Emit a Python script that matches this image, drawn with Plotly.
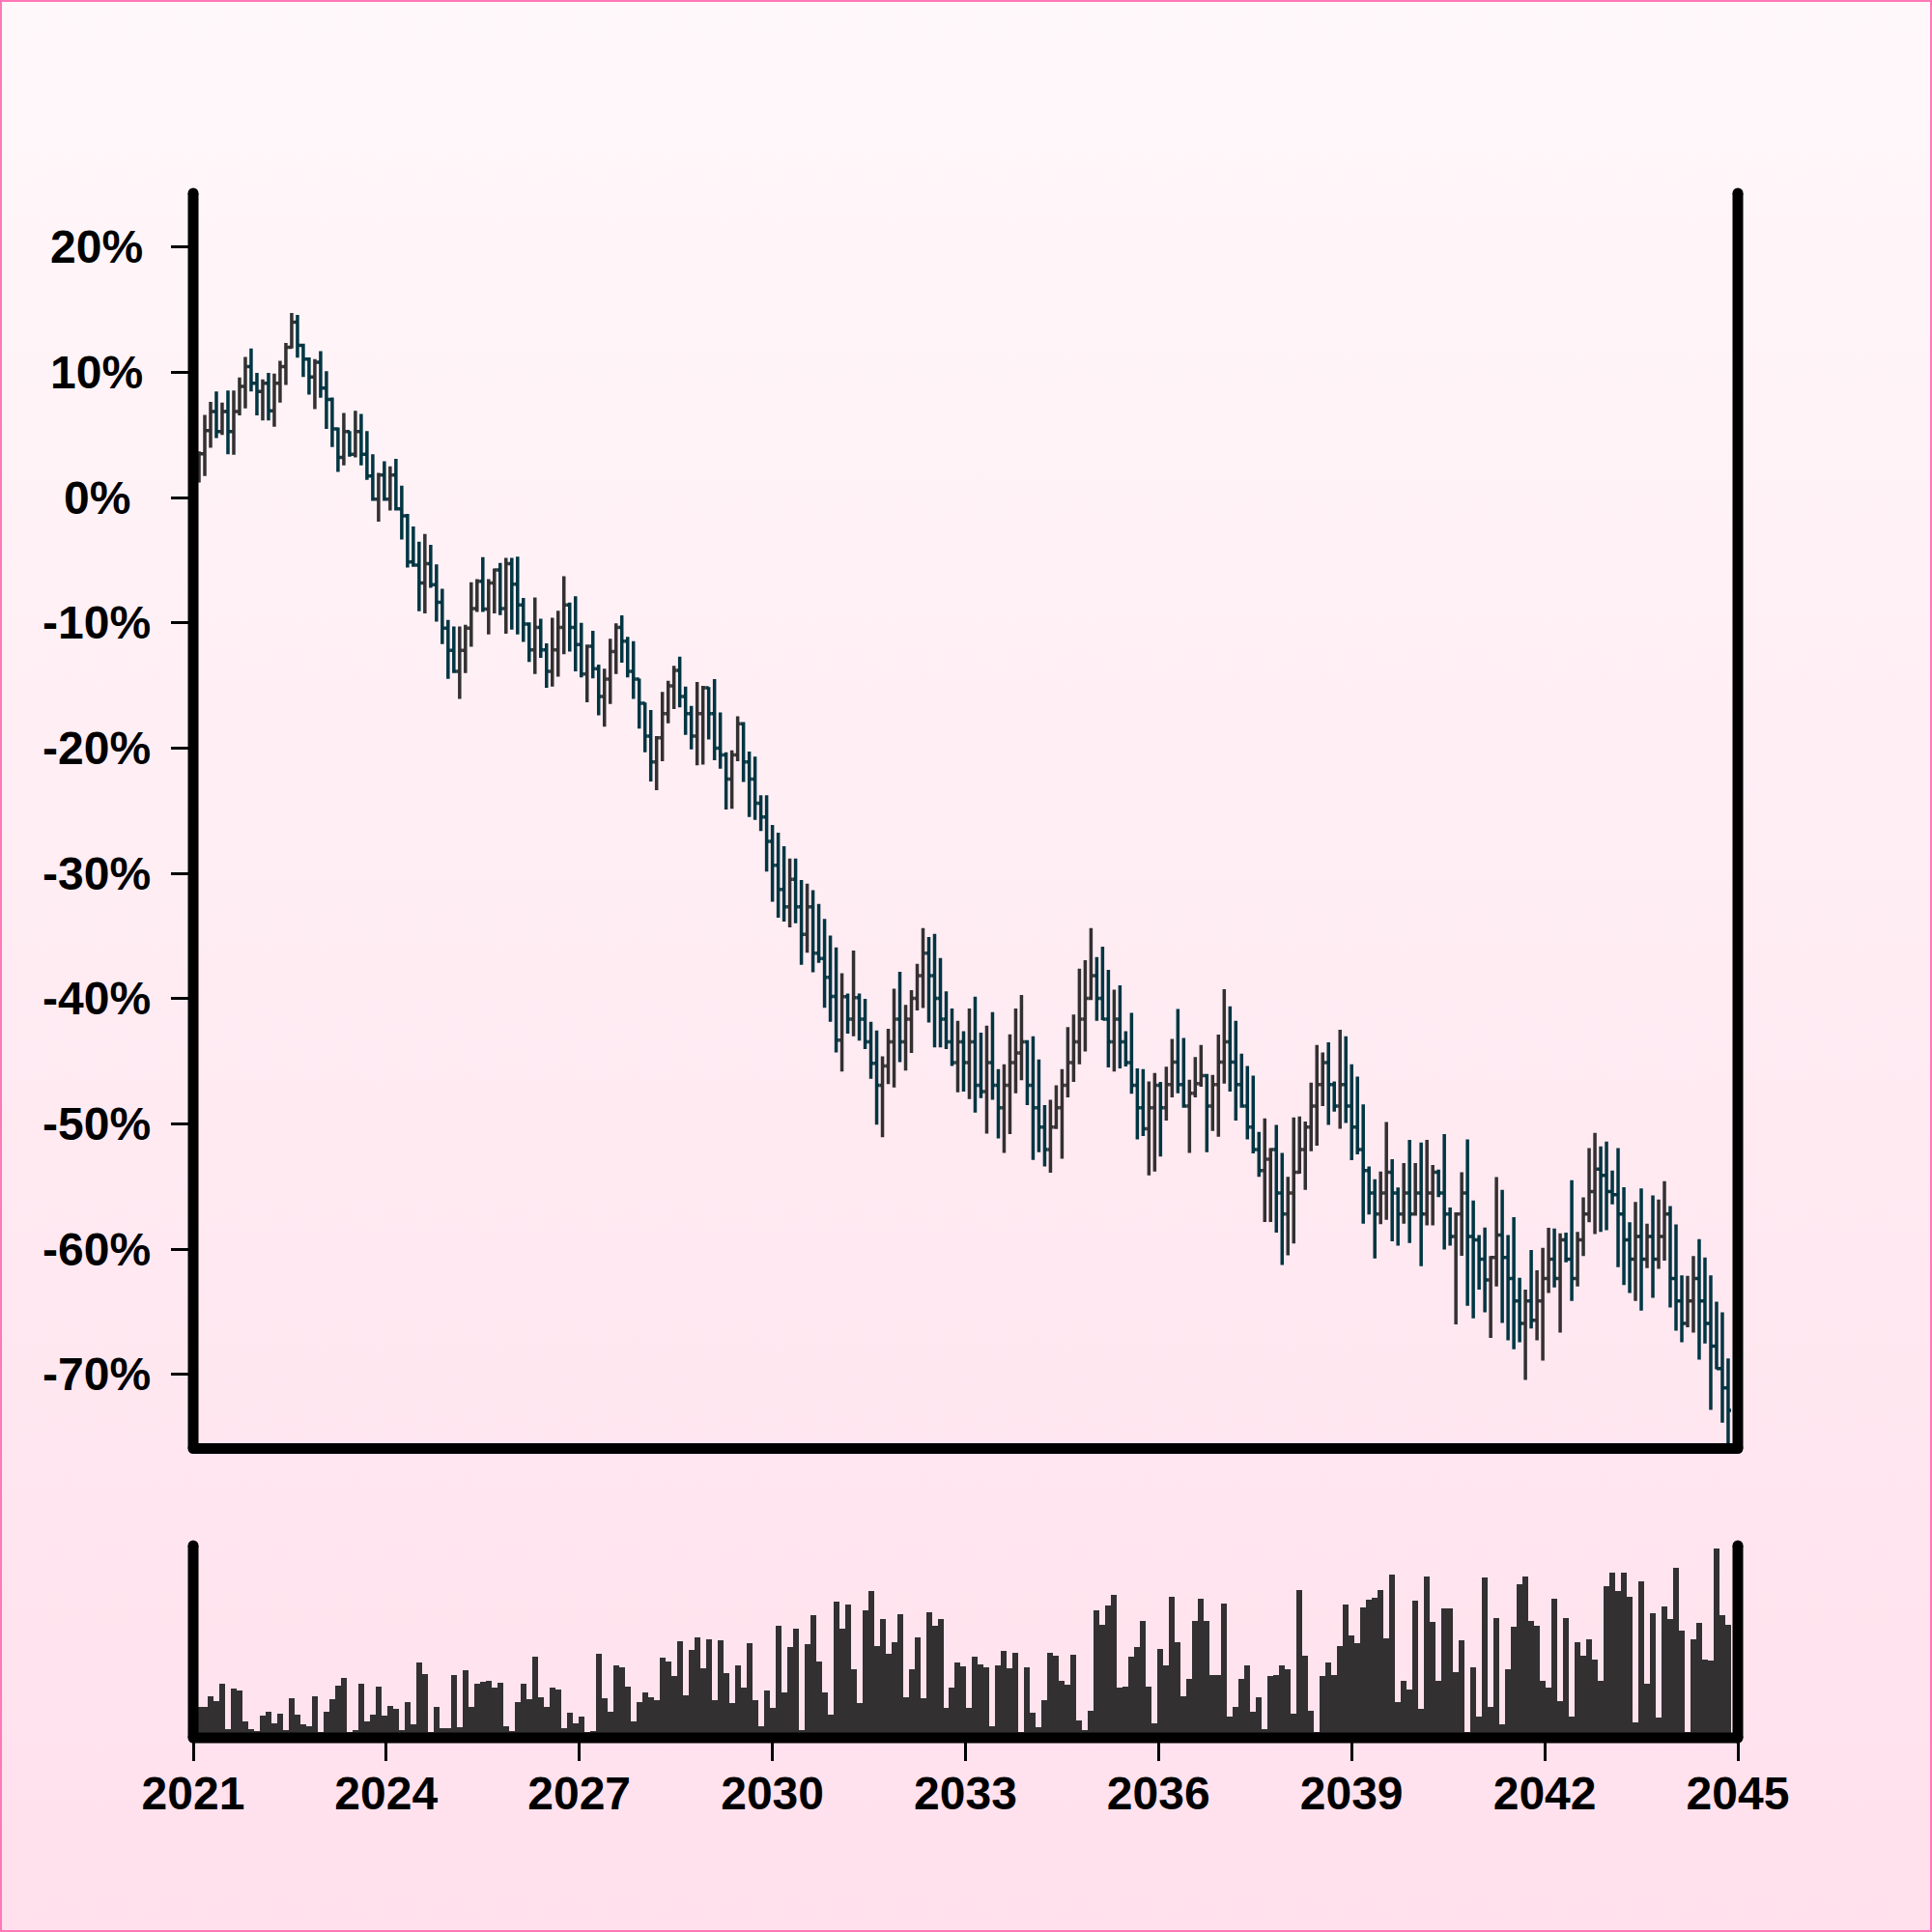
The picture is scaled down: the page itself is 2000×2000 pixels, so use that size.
import base64
import pandas as pd
import plotly.graph_objects as go

# ---------------- data ----------------
dates = pd.date_range("2021-01-01", "2044-11-07", periods=266)

open_pct = [
    1.2, 2.0, 3.5, 5.35, 6.87, 5.27, 6.87, 5.27, 6.87, 8.87,
    10.46, 9.13, 8.48, 9.13, 6.94, 9.13, 10.46, 12.01, 14.01, 12.16,
    11.05, 9.64, 10.80, 8.74, 7.84, 5.48, 3.22, 5.27, 3.47, 5.27,
    3.47, 1.73, -0.13, 1.80, -0.13, 1.80, -0.90, -1.46, -5.14, -5.39,
    -6.81, -5.27, -6.94, -8.35, -10.41, -12.20, -13.87, -12.20, -10.41, -8.86,
    -6.68, -8.90, -6.81, -5.78, -8.86, -5.27, -6.91, -8.56, -10.08, -12.15,
    -10.36, -12.15, -13.87, -12.15, -10.36, -8.56, -10.36, -11.73, -14.07, -11.86,
    -13.66, -15.87, -14.48, -12.28, -10.36, -11.45, -13.87, -14.48, -16.41, -19.03,
    -21.09, -19.17, -17.24, -15.03, -13.80, -15.87, -17.24, -19.03, -17.24, -15.17,
    -17.24, -19.99, -20.54, -22.47, -20.54, -18.06, -21.09, -22.47, -24.39, -25.50,
    -27.43, -29.35, -31.28, -32.66, -30.46, -32.66, -34.86, -32.66, -36.37, -36.79,
    -38.30, -39.81, -43.30, -39.83, -41.63, -39.91, -41.63, -43.43, -45.15, -46.90,
    -45.36, -43.43, -41.63, -43.43, -41.63, -39.96, -38.16, -36.36, -38.16, -39.96,
    -41.63, -43.43, -45.10, -43.43, -45.10, -43.43, -46.90, -47.41, -45.10, -46.90,
    -48.70, -46.90, -45.10, -44.33, -43.43, -46.90, -48.70, -50.24, -52.04, -50.24,
    -48.70, -46.90, -45.10, -43.43, -41.63, -39.96, -38.16, -39.96, -41.63, -43.43,
    -41.63, -43.43, -45.10, -46.90, -48.70, -50.37, -48.70, -46.90, -48.70, -46.85,
    -45.05, -46.85, -48.57, -47.54, -46.77, -46.13, -48.57, -46.85, -45.05, -43.43,
    -45.05, -46.85, -48.57, -50.24, -52.04, -53.71, -52.81, -52.04, -55.51, -57.18,
    -55.51, -53.84, -52.04, -50.24, -48.57, -46.85, -45.10, -46.85, -48.57, -46.85,
    -48.57, -50.24, -52.04, -53.71, -55.51, -57.18, -55.51, -53.84, -55.51, -57.18,
    -55.51, -57.18, -55.51, -57.18, -55.51, -53.84, -55.51, -57.18, -58.98, -57.18,
    -55.51, -58.98, -59.24, -60.78, -62.45, -60.65, -58.85, -60.65, -62.32, -64.12,
    -65.92, -64.12, -65.67, -64.12, -62.32, -60.78, -62.32, -59.24, -60.78, -62.32,
    -59.24, -57.18, -55.39, -53.59, -54.10, -55.39, -55.64, -57.18, -59.24, -60.78,
    -58.98, -60.78, -58.98, -60.78, -58.98, -57.18, -62.32, -64.12, -65.92, -64.12,
    -62.32, -64.12, -65.92, -67.72, -69.52, -71.06,
]

high_pct = [
    2.8, 3.7, 6.61, 7.64, 8.48, 7.58, 8.56, 8.56, 9.59, 11.23,
    11.90, 9.95, 9.44, 9.95, 9.90, 10.93, 12.34, 14.73, 14.58, 12.3,
    11.2, 11.05, 11.70, 10.10, 8.0, 5.6, 6.76, 5.32, 6.94, 6.69,
    5.32, 3.47, 1.98, 2.91, 2.50, 3.09, 0.95, -1.3, -2.31, -3.52,
    -2.90, -3.77, -5.32, -7.27, -9.76, -10.28, -10.28, -10.15, -6.76, -6.50,
    -4.75, -6.50, -5.65, -5.21, -4.80, -4.80, -4.71, -8.01, -9.95, -7.96,
    -9.66, -11.64, -9.59, -9.03, -6.28, -8.37, -7.87, -10.00, -11.73, -10.63,
    -13.33, -13.66, -11.26, -10.03, -9.39, -11.12, -11.45, -14.45, -16.36, -16.96,
    -19.03, -15.50, -14.62, -13.43, -12.69, -15.09, -16.63, -14.71, -15.03, -15.12,
    -14.48, -17.15, -20.32, -20.18, -17.46, -17.92, -20.27, -20.68, -23.76, -23.76,
    -26.13, -26.74, -27.83, -28.80, -28.80, -30.53, -30.81, -31.34, -32.44, -33.62,
    -34.95, -35.90, -37.96, -39.58, -36.16, -39.58, -40.01, -41.84, -42.53, -44.59,
    -42.40, -39.19, -37.85, -40.48, -39.32, -37.21, -34.36, -35.08, -34.82, -36.75,
    -39.40, -40.78, -41.76, -42.58, -40.78, -39.83, -42.71, -42.15, -41.07, -45.62,
    -45.23, -42.84, -40.78, -39.70, -43.3, -42.99, -44.84, -48.49, -48.06, -46.90,
    -45.62, -42.27, -41.25, -37.60, -36.93, -34.36, -36.67, -35.85, -37.70, -39.27,
    -38.93, -42.58, -41.12, -45.56, -45.62, -46.59, -45.92, -46.64, -45.43, -43.20,
    -40.81, -43.12, -46.46, -44.66, -43.69, -46.00, -46.08, -42.86, -39.24, -40.60,
    -41.76, -44.38, -45.36, -46.13, -50.63, -49.55, -51.91, -50.06, -52.30, -54.22,
    -49.47, -49.39, -49.80, -46.69, -43.69, -44.28, -43.48, -46.59, -42.48, -42.99,
    -45.23, -46.21, -48.44, -53.38, -54.40, -53.79, -49.83, -52.81, -55.07, -53.12,
    -51.27, -53.12, -51.47, -51.27, -53.27, -53.63, -50.81, -56.67, -57.05, -53.84,
    -51.22, -56.10, -58.85, -58.26, -60.53, -54.23, -55.26, -58.85, -57.44, -62.27,
    -63.22, -60.06, -61.68, -59.88, -58.29, -58.34, -58.73, -58.67, -54.49, -58.60,
    -55.85, -51.92, -50.71, -51.79, -51.40, -53.71, -51.92, -55.05, -57.83, -56.21,
    -55.13, -57.96, -55.69, -56.03, -54.56, -56.54, -58.01, -62.07, -62.12, -60.53,
    -59.19, -60.65, -62.07, -64.17, -65.02, -68.70,
]

low_pct = [
    0.5, 1.2, 1.73, 3.99, 4.76, 5.01, 3.47, 3.42, 6.56, 7.12,
    8.48, 6.56, 6.17, 6.17, 5.66, 7.58, 9.00, 11.9, 11.18, 9.64,
    8.23, 7.07, 7.97, 5.48, 4.04, 2.06, 2.57, 3.27, 3.22, 2.57,
    1.42, -0.25, -1.92, -0.25, -1.02, -1.02, -3.34, -5.57, -5.52, -9.07,
    -9.25, -7.19, -9.89, -11.69, -14.47, -14.00, -16.06, -14.00, -11.90, -9.12,
    -9.12, -10.92, -9.25, -9.38, -10.87, -10.53, -10.91, -11.51, -13.11, -14.07,
    -12.78, -15.17, -15.09, -14.29, -12.50, -12.28, -13.87, -14.34, -16.33, -14.43,
    -17.38, -18.29, -16.47, -14.07, -13.17, -14.34, -16.06, -18.43, -20.32, -22.66,
    -23.36, -21.04, -18.01, -16.88, -16.74, -18.94, -20.10, -21.37, -21.31, -19.31,
    -20.96, -21.64, -24.89, -24.83, -21.04, -22.69, -25.50, -25.72, -26.60, -29.85,
    -32.25, -33.53, -33.84, -34.30, -33.98, -37.28, -36.32, -37.89, -37.14, -40.72,
    -41.83, -44.28, -45.80, -42.79, -42.99, -43.35, -44.02, -46.39, -50.04, -51.06,
    -46.82, -47.08, -45.05, -45.74, -44.33, -40.94, -40.73, -41.89, -43.89, -43.89,
    -44.02, -45.36, -47.47, -47.41, -48.01, -49.08, -47.93, -50.76, -48.06, -51.14,
    -52.30, -50.81, -47.54, -46.51, -48.49, -52.86, -52.25, -53.38, -53.89, -50.4,
    -52.76, -47.88, -46.64, -45.23, -44.20, -40.1, -41.76, -41.71, -45.49, -45.80,
    -45.56, -45.41, -47.59, -51.22, -50.96, -54.10, -53.79, -52.60, -49.73, -47.88,
    -47.54, -48.70, -52.30, -47.88, -47.03, -52.24, -50.55, -51.01, -46.77, -47.41,
    -49.73, -48.70, -51.22, -52.35, -54.22, -57.82, -57.82, -58.67, -61.24, -60.47,
    -59.54, -53.97, -55.25, -52.17, -51.73, -48.57, -50.06, -49.01, -50.37, -49.91,
    -52.89, -52.42, -57.95, -57.23, -60.73, -58.00, -57.64, -59.36, -59.70, -57.95,
    -59.49, -57.31, -61.34, -58.08, -58.08, -55.84, -60.01, -59.70, -66.0, -60.52,
    -64.5, -65.5, -63.22, -65.02, -67.08, -62.97, -65.87, -67.26, -67.98, -67.41,
    -70.42, -66.31, -67.26, -68.88, -63.48, -63.04, -66.64, -61.04, -64.12, -62.97,
    -60.53, -57.83, -58.78, -58.60, -58.47, -56.41, -61.42, -62.84, -63.48, -64.12,
    -64.89, -61.50, -63.87, -61.55, -60.91, -64.64, -66.49, -67.41, -66.23, -66.64,
    -68.80, -67.52, -72.81, -69.57, -73.84, -77.0,
]

close_pct = [
    2.0, 3.5, 5.35, 6.87, 5.27, 6.87, 5.27, 6.87, 8.87, 10.46,
    9.13, 8.48, 9.13, 6.94, 9.13, 10.46, 12.01, 14.01, 12.16, 11.05,
    9.64, 10.80, 8.74, 7.84, 5.48, 3.22, 5.27, 3.47, 5.27, 3.47,
    1.73, -0.13, 1.80, -0.13, 1.80, -0.90, -1.46, -5.14, -5.39, -6.81,
    -5.27, -6.94, -8.35, -10.41, -12.20, -13.87, -12.20, -10.41, -8.86, -6.68,
    -8.90, -6.81, -5.78, -8.86, -5.27, -6.91, -8.56, -10.08, -12.15, -10.36,
    -12.15, -13.87, -12.15, -10.36, -8.56, -10.36, -11.73, -14.07, -11.86, -13.66,
    -15.87, -14.48, -12.28, -10.36, -11.45, -13.87, -14.48, -16.41, -19.03, -21.09,
    -19.17, -17.24, -15.03, -13.80, -15.87, -17.24, -19.03, -17.24, -15.17, -17.24,
    -19.99, -20.54, -22.47, -20.54, -18.06, -21.09, -22.47, -24.39, -25.50, -27.43,
    -29.35, -31.28, -32.66, -30.46, -32.66, -34.86, -32.66, -36.37, -36.79, -38.30,
    -39.81, -43.30, -39.83, -41.63, -39.91, -41.63, -43.43, -45.15, -46.90, -45.36,
    -43.43, -41.63, -43.43, -41.63, -39.96, -38.16, -36.36, -38.16, -39.96, -41.63,
    -43.43, -45.10, -43.43, -45.10, -43.43, -46.90, -47.41, -45.10, -46.90, -48.70,
    -46.90, -45.10, -44.33, -43.43, -46.90, -48.70, -50.24, -52.04, -50.24, -48.70,
    -46.90, -45.10, -43.43, -41.63, -39.96, -38.16, -39.96, -41.63, -43.43, -41.63,
    -43.43, -45.10, -46.90, -48.70, -50.37, -48.70, -46.90, -48.70, -46.85, -45.05,
    -46.85, -48.57, -47.54, -46.77, -46.13, -48.57, -46.85, -45.05, -43.43, -45.05,
    -46.85, -48.57, -50.24, -52.04, -53.71, -52.81, -52.04, -55.51, -57.18, -55.51,
    -53.84, -52.04, -50.24, -48.57, -46.85, -45.10, -46.85, -48.57, -46.85, -48.57,
    -50.24, -52.04, -53.71, -55.51, -57.18, -55.51, -53.84, -55.51, -57.18, -55.51,
    -57.18, -55.51, -57.18, -55.51, -53.84, -55.51, -57.18, -58.98, -57.18, -55.51,
    -58.98, -59.24, -60.78, -62.45, -60.65, -58.85, -60.65, -62.32, -64.12, -65.92,
    -64.12, -65.67, -64.12, -62.32, -60.78, -62.32, -59.24, -60.78, -62.32, -59.24,
    -57.18, -55.39, -53.59, -54.10, -55.39, -55.64, -57.18, -59.24, -60.78, -58.98,
    -60.78, -58.98, -60.78, -58.98, -57.18, -62.32, -64.12, -65.92, -64.12, -62.32,
    -64.12, -65.92, -67.72, -69.52, -71.06, -72.86,
]

volume = [
    30, 31.7, 31.7, 43.3, 38.3, 56.3, 9.0, 51.3, 49.0, 16.7,
    9.0, 6.7, 23.0, 27.3, 15.0, 24.7, 8.3, 40.7, 24.0, 14.0,
    11.7, 43.0, 5.7, 27.3, 40.0, 54.0, 62.3, 5.7, 8.0, 56.3,
    16.7, 24.0, 53.3, 23.0, 33.3, 30.0, 8.3, 36.7, 14.0, 78.0,
    65.7, 5.7, 31.7, 10.0, 10.0, 64.7, 10.7, 69.7, 31.7, 55.7,
    58.3, 59.0, 52.3, 56.7, 12.3, 7.3, 37.3, 55.7, 39.7, 83.7,
    42.3, 31.7, 52.3, 49.7, 9.7, 25.7, 14.7, 22.3, 5.7, 7.3,
    87.3, 41.3, 26.7, 75.3, 73.3, 53.3, 17.3, 37.3, 46.7, 42.3,
    39, 83, 79, 64, 100, 44, 91, 104, 72, 102,
    39, 101, 67, 36, 75, 52, 98, 39, 12, 49,
    31, 116, 47, 94, 113, 8, 97, 127, 79, 47,
    24, 141, 113, 138, 71, 36, 132, 152, 95, 123,
    87, 99, 128, 42, 71, 104, 41, 130, 116, 123,
    31, 52, 78, 74, 31, 84, 76, 73, 12, 75,
    90, 72, 88, 6, 73, 26, 11, 39, 88, 85,
    59, 55, 86, 18, 8, 28, 132, 117, 137, 148,
    52, 53, 84, 94, 121, 53, 15, 92, 75, 146,
    99, 43, 61, 121, 144, 121, 65, 65, 139, 22,
    32, 61, 75, 27, 42, 9, 64, 65, 75, 71,
    25, 153, 85, 28, 6, 64, 78, 65, 95, 138,
    106, 98, 135, 143, 145, 153, 103, 169, 37, 59,
    50, 142, 30, 167, 120, 59, 134, 134, 68, 101,
    6, 73, 22, 166, 32, 124, 14, 71, 115, 159,
    167, 121, 116, 59, 52, 144, 38, 124, 22, 99,
    85, 102, 81, 59, 157, 171, 152, 171, 146, 16,
    162, 56, 129, 21, 136, 123, 176, 111, 6, 102,
    119, 81, 80, 196, 127, 117,
]

year_ticks = ["2021-01-01", "2024-01-01", "2027-01-01", "2030-01-01", "2033-01-01",
              "2036-01-01", "2039-01-01", "2042-01-01", "2045-01-01"]
year_labels = ["2021", "2024", "2027", "2030", "2033", "2036", "2039", "2042", "2045"]
pct_ticks = [20, 10, 0, -10, -20, -30, -40, -50, -60, -70]
pct_labels = ["20%", "10%", "0%", "-10%", "-20%", "-30%", "-40%", "-50%", "-60%", "-70%"]

n = len(dates)
assert len(open_pct) == n and len(high_pct) == n and len(low_pct) == n
assert len(close_pct) == n and len(volume) == n

# ---------------- style ----------------
INC = "#333031"
DEC = "#003542"
VOL = "#333031"
X_RANGE = ["2021-01-01", "2045-01-01"]
MAIN_BOTTOM = 0.1873
VOL_TOP = 0.1245
LW = 11
FONT = dict(family="Liberation Sans, Arial, Helvetica, sans-serif", size=48,
            color="black", weight="bold")

W, H = 2000, 2000
ML, MR, MT, MB = 200, 201, 200, 201
PW, PH = W - ML - MR, H - MT - MB
YLABEL_CENTER_PX = 100  # centre of the y tick labels, in page pixels

svg = (
    '<svg xmlns="http://www.w3.org/2000/svg" width="2000" height="2000">'
    '<defs><linearGradient id="g" x1="0" y1="0" x2="0" y2="1">'
    '<stop offset="0" stop-color="#fff8fa"/><stop offset="1" stop-color="#ffe0ec"/>'
    '</linearGradient></defs>'
    '<rect width="2000" height="2000" fill="url(#g)"/>'
    '<rect x="1" y="1" width="1998" height="1998" fill="none" stroke="#ff78b8" stroke-width="2"/>'
    '</svg>'
)
bg_src = "data:image/svg+xml;base64," + base64.b64encode(svg.encode()).decode()

fig = go.Figure()
fig.add_trace(go.Ohlc(
    x=dates, open=open_pct, high=high_pct, low=low_pct, close=close_pct,
    increasing=dict(line=dict(color=INC, width=3.5)),
    decreasing=dict(line=dict(color=DEC, width=3.5)),
    tickwidth=0.5, xaxis="x", yaxis="y", hoverinfo="skip", showlegend=False,
))
fig.add_trace(go.Bar(
    x=dates, y=volume, marker=dict(color=VOL, line=dict(width=0)),
    xaxis="x2", yaxis="y2", hoverinfo="skip", showlegend=False,
))


def frame(y_bot, y_top):
    out = []
    common = dict(xref="paper", yref="paper", line=dict(color="black", width=LW))
    for x in (0, 1):
        out.append(dict(type="line", x0=x, x1=x, y0=y_bot, y1=y_top, **common))
    out.append(dict(type="line", x0=0, x1=1, y0=y_bot, y1=y_bot, **common))
    for x in (0, 1):
        for y in (y_bot, y_top):
            out.append(dict(type="circle", xref="paper", yref="paper",
                            xsizemode="pixel", ysizemode="pixel",
                            xanchor=x, yanchor=y,
                            x0=-LW / 2, x1=LW / 2, y0=-LW / 2, y1=LW / 2,
                            fillcolor="black", line=dict(width=0)))
    return out


shapes = frame(MAIN_BOTTOM, 1) + frame(0, VOL_TOP)

# y tick labels are centred on a common column, as in the reference
y_label_annotations = [
    dict(x=(YLABEL_CENTER_PX - ML) / PW, xref="paper", y=v, yref="y",
         text=t, showarrow=False, xanchor="center", yanchor="middle",
         font=FONT)
    for v, t in zip(pct_ticks, pct_labels)
]

fig.update_layout(
    width=W, height=H,
    margin=dict(l=ML, r=MR, t=MT, b=MB),
    paper_bgcolor="#ffedf3",
    plot_bgcolor="rgba(0,0,0,0)",
    showlegend=False,
    bargap=0,
    images=[dict(source=bg_src, xref="paper", yref="paper",
                 x=-ML / PW, y=1 + MT / PH, sizex=W / PW, sizey=H / PH,
                 xanchor="left", yanchor="top", sizing="stretch", layer="below")],
    shapes=shapes,
    annotations=y_label_annotations,
    xaxis=dict(domain=[0, 1], anchor="y", type="date", range=X_RANGE,
               rangeslider=dict(visible=False), showticklabels=False, ticks="",
               showgrid=False, zeroline=False, showline=False),
    yaxis=dict(domain=[MAIN_BOTTOM, 1], anchor="x", range=[-75.9, 24.3],
               tickmode="array", tickvals=pct_ticks, showticklabels=False,
               ticks="outside", ticklen=22, tickwidth=3, tickcolor="black",
               showgrid=False, zeroline=False, showline=False),
    xaxis2=dict(domain=[0, 1], anchor="y2", type="date", range=X_RANGE,
                tickmode="array", tickvals=year_ticks, ticktext=year_labels,
                ticks="outside", ticklen=23, tickwidth=3, tickcolor="black",
                ticklabelstandoff=-8,
                showgrid=False, zeroline=False, showline=False, tickfont=FONT),
    yaxis2=dict(domain=[0, VOL_TOP], anchor="x2", range=[0, 199],
                showticklabels=False, ticks="", showgrid=False,
                zeroline=False, showline=False),
)

fig.write_html(
    "out.html",
    config={"displayModeBar": False},
    post_script="document.body.style.margin='0';document.body.style.padding='0';",
)
